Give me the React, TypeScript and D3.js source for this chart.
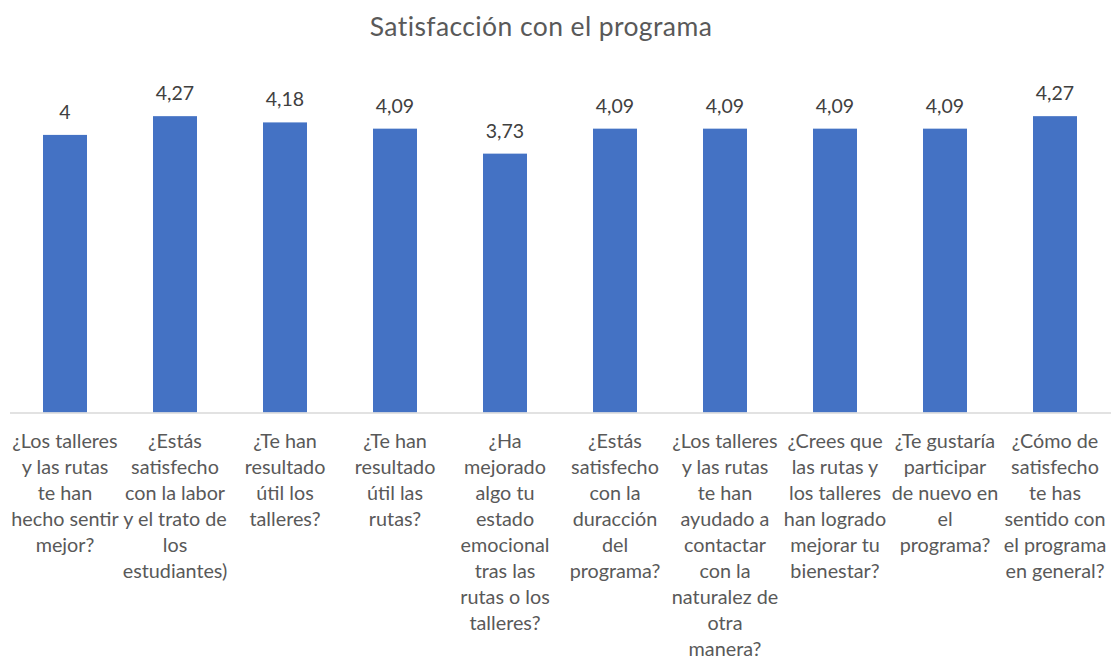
import React from "react";
import * as d3 from "d3";

const title = "Satisfacción con el programa";

const categories: string[] = [
  "¿Los talleres\ny las rutas\nte han\nhecho sentir\nmejor?",
  "¿Estás\nsatisfecho\ncon la labor\ny el trato de\nlos\nestudiantes)",
  "¿Te han\nresultado\nútil los\ntalleres?",
  "¿Te han\nresultado\nútil las\nrutas?",
  "¿Ha\nmejorado\nalgo tu\nestado\nemocional\ntras las\nrutas o los\ntalleres?",
  "¿Estás\nsatisfecho\ncon la\nduracción\ndel\nprograma?",
  "¿Los talleres\ny las rutas\nte han\nayudado a\ncontactar\ncon la\nnaturalez de\notra\nmanera?",
  "¿Crees que\nlas rutas y\nlos talleres\nhan logrado\nmejorar tu\nbienestar?",
  "¿Te gustaría\nparticipar\nde nuevo en\nel\nprograma?",
  "¿Cómo de\nsatisfecho\nte has\nsentido con\nel programa\nen general?",
];

const values: number[] = [4, 4.27, 4.18, 4.09, 3.73, 4.09, 4.09, 4.09, 4.09, 4.27];

const yDomain: [number, number] = [0, 5];

const W = 1111;
const H = 658;
const FONT = "Lato, 'Open Sans', sans-serif";

export default function App() {
  const x = d3
    .scaleBand<string>()
    .domain(categories)
    .range([10, 1110])
    .paddingInner(0.6)
    .paddingOuter(0.3);
  const y = d3.scaleLinear().domain(yDomain).range([412.5, 65.5]);
  const fmt = (v: number) => String(v).replace(".", ",");

  return (
    <div style={{ position: "fixed", left: 0, top: 0, width: W, height: H, background: "#fff" }}>
      <svg width={W} height={H} style={{ display: "block" }}>
        <rect x={0} y={0} width={W} height={H} fill="#ffffff" />
        <text
          x={541}
          y={36}
          textAnchor="middle"
          fontFamily={FONT}
          fontSize={26.5}
          letterSpacing={0.4}
          fill="#595959"
        >
          {title}
        </text>
        {categories.map((c, i) => (
          <rect
            key={"b" + i}
            x={x(c)}
            y={y(values[i])}
            width={x.bandwidth()}
            height={y(0) - y(values[i])}
            fill="#4472C4"
          />
        ))}
        <line x1={10} x2={1111} y1={y(0) + 0.5} y2={y(0) + 0.5} stroke="#d9d9d9" strokeWidth={1.5} />
        {categories.map((c, i) => (
          <text
            key={"v" + i}
            x={(x(c) as number) + x.bandwidth() / 2}
            y={y(values[i]) - 16}
            textAnchor="middle"
            fontFamily={FONT}
            fontSize={19.5}
            fill="#404040"
          >
            {fmt(values[i])}
          </text>
        ))}
        {categories.map((c, i) => (
          <text
            key={"l" + i}
            textAnchor="middle"
            fontFamily={FONT}
            fontSize={19.8}
            fill="#595959"
          >
            {c.split("\n").map((line, j) => (
              <tspan key={j} x={(x(c) as number) + x.bandwidth() / 2} y={448 + j * 26}>
                {line}
              </tspan>
            ))}
          </text>
        ))}
      </svg>
    </div>
  );
}
